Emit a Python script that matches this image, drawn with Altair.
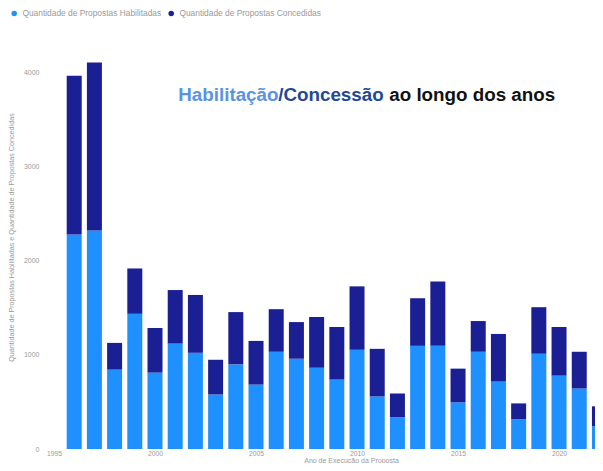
import altair as alt
import pandas as pd

years = list(range(1996, 2023))
habilitadas = [2277, 2319, 842, 1435, 811, 1119, 1021, 579, 898, 684, 1032, 958, 863,
               737, 1053, 558, 337, 1095, 1095, 495, 1032, 716, 316, 1011, 779, 642, 242]
concedidas = [1684, 1783, 284, 481, 473, 568, 614, 368, 555, 463, 452, 389, 537,
              558, 673, 505, 252, 505, 684, 358, 326, 505, 168, 494, 516, 390, 211]

serie_hab = "Quantidade de Propostas Habilitadas"
serie_con = "Quantidade de Propostas Concedidas"
series = [serie_hab, serie_con]
colors = ["#1E90FF", "#1B1F94"]

title_parts = ["Habilitação", "/Concessão", "ao longo dos anos"]
title_colors = ["#5a93e3", "#1f4a93", "#111111"]
title_dx = [0, 100, 211]
title_year = 2001.15
title_value = 3760

rows = []
for y, h, c in zip(years, habilitadas, concedidas):
    rows.append({"ano": y, "serie": serie_hab, "valor": h, "ord": 0})
    rows.append({"ano": y, "serie": serie_con, "valor": c, "ord": 1})
df = pd.DataFrame(rows)

FONT = "Liberation Sans"

x_scale = alt.Scale(domain=[1995, 2021.78], nice=False, zero=False, padding=0)
y_scale = alt.Scale(domain=[0, 4500], nice=False, padding=0)

bars = alt.Chart(df).mark_bar(size=15).encode(
    x=alt.X("ano:Q", scale=x_scale,
            axis=alt.Axis(title="Ano de Execução da Proposta", values=[1995, 2000, 2005, 2010, 2015, 2020],
                          format="d", grid=False, domain=False, ticks=False, labelPadding=1,
                          labelFlush=False, labelFontSize=6.8, labelColor="#9a9a9a",
                          titleFontSize=7, titleColor="#9a9a9a",
                          titleFontWeight="normal", titlePadding=0, titleX=297, labelFont=FONT, titleFont=FONT)),
    y=alt.Y("valor:Q", stack="zero", scale=y_scale,
            axis=alt.Axis(title="Quantidade de Propostas Habilitadas e Quantidade de Propostas Concedidas",
                          values=[0, 1000, 2000, 3000, 4000], format="d", grid=False, domain=False,
                          ticks=False, labelPadding=15, labelFontSize=7, labelColor="#9a9a9a",
                          titleFontSize=7.2, titleColor="#9a9a9a", titleFontWeight="normal",
                          titlePadding=8, labelFont=FONT, titleFont=FONT)),
    color=alt.Color("serie:N", scale=alt.Scale(domain=series, range=colors),
                    legend=alt.Legend(title=None, orient="none", legendX=-44, legendY=-16,
                                      direction="horizontal", symbolType="circle", symbolSize=30,
                                      labelFontSize=8.4, labelColor="#9a9a9a", columnPadding=5,
                                      labelFont=FONT, padding=0)),
    order=alt.Order("ord:Q", sort="ascending"),
)

texts = []
for part, col, dx in zip(title_parts, title_colors, title_dx):
    t = alt.Chart(pd.DataFrame({"ano": [title_year], "valor": [title_value], "txt": [part]})).mark_text(
        align="left", baseline="middle", fontSize=18.8, fontWeight="bold", font=FONT, color=col, dx=dx
    ).encode(x=alt.X("ano:Q", scale=x_scale), y=alt.Y("valor:Q", scale=y_scale), text="txt:N")
    texts.append(t)

chart = alt.layer(bars, *texts).properties(
    width=541, height=424,
    autosize=alt.AutoSizeParams(type="none"),
    padding={"left": 46, "top": 17, "right": 0, "bottom": 14},
    background="white",
).configure_view(stroke=None)

chart.save("out.html", embed_options={"renderer": "svg", "actions": False})
